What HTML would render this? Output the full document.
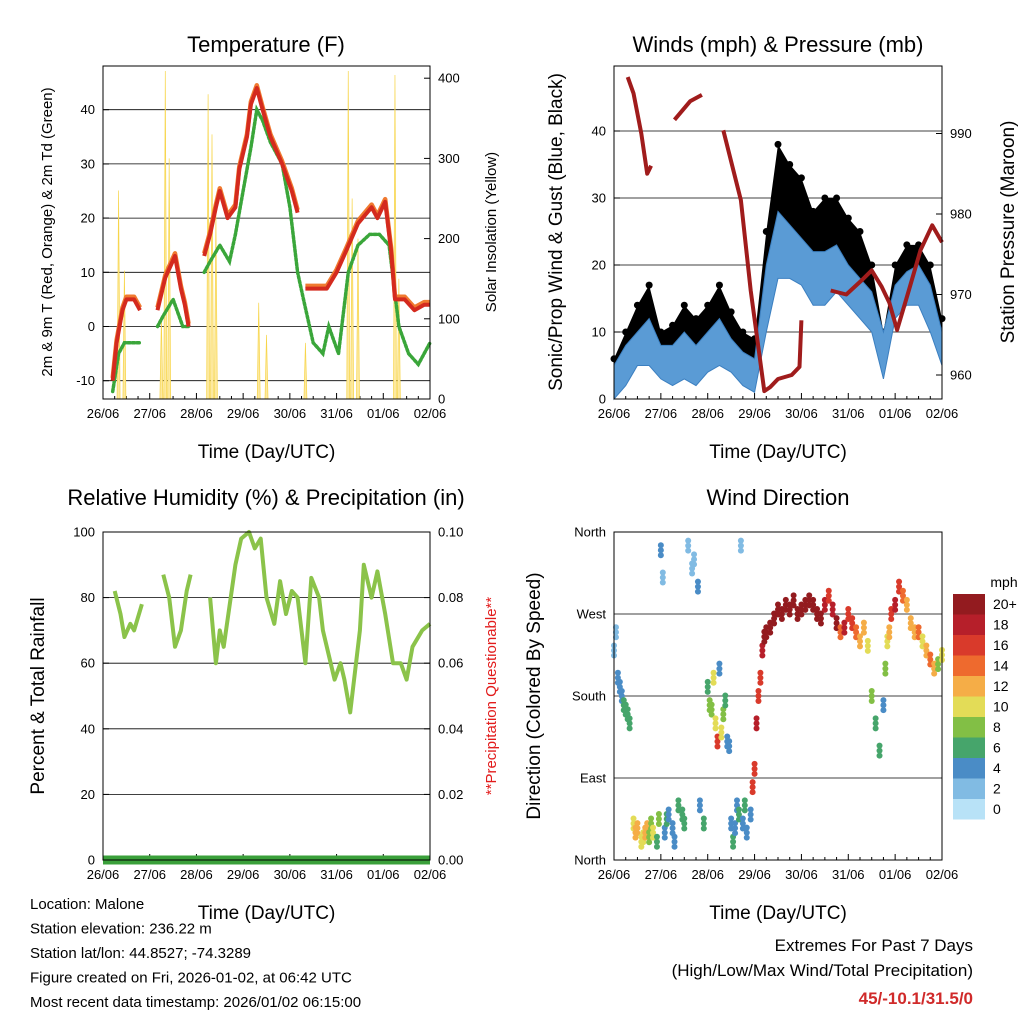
<!DOCTYPE html>
<html><head><meta charset="utf-8"><style>
body{margin:0;background:#fff}
svg{display:block;font-family:"Liberation Sans",sans-serif}
</style></head><body>
<svg id="c" width="1024" height="1024" viewBox="0 0 1024 1024"></svg>
<script>
// ---------- DATA ----------
const dayLabels=["26/06","27/06","28/06","29/06","30/06","31/06","01/06","02/06"];
// Temperature (hours since 26/06 00Z)
const tempT=[5,7,10,12,16,19,20,28,32,37,40,42,44,45,52,55,58,60,64,68,70,74,76,79,82,86,92,97,100,101,104,110,115,120,125,131,138,141,145,148,150,155,160,165,168];
const tempV=[-10,-3,3,5,5,3,null,3,9,13,7,4,0,null,13,17,22,25,20,22,29,35,41,44,40,35,30,25,21,null,7,7,7,10,14,19,22,20,23,14,5,5,3,4,4];
const tdT=[5,8,11,13,19,20,28,31,36,41,44,45,52,55,60,65,68,72,76,79,82,86,92,96,100,103,108,113,116,121,126,131,137,142,147,152,157,162,168];
const tdV=[-12,-5,-3,-3,-3,null,0,2,5,0,0,null,10,12,15,12,17,25,33,40,38,34,30,22,10,5,-3,-5,0,-5,10,15,17,17,15,0,-5,-7,-3];
// Solar spikes: peak time and peak value
const solarT=[8,11,30,32,34,54,56,58,80,84,104,126,128,131,150,152];
const solarV=[260,160,100,409,300,380,330,230,120,80,70,409,250,200,404,150];
// Winds (6-hourly)
const windT=[0,6,12,18,24,30,36,42,48,54,60,66,72,78,84,90,96,102,108,114,120,126,132,138,144,150,156,162,168];
const windLo=[0,2,5,5,3,2,3,2,4,5,4,2,1,10,18,18,17,14,14,16,14,12,10,3,12,14,14,10,5];
const windHi=[5,8,10,12,8,8,10,8,10,12,9,7,6,20,28,26,24,22,22,23,20,18,16,10,17,19,20,17,10];
const gustV=[6,10,14,17,10,11,14,12,14,17,13,10,9,25,38,35,33,28,30,30,27,25,20,10,20,23,23,20,12];
const presT=[7,10,14,17,19,20,31,39,45,46,56,65,70,77,80,84,91,95,96,103,111,119,127,132,137,141,145,151,157,163,168];
const presV=[997,995,990,985,986,null,991.7,994,994.8,null,990.4,981.7,970.5,958,958.5,959.5,960,961,966.8,null,970.5,970,971.8,973,971,969,965.6,970.5,975.5,978.6,976.5];
// RH
const rhT=[6,9,11,14,16,20,21,31,34,37,40,43,45,47,55,58,60,62,68,71,75,78,81,84,88,91,94,97,100,104,107,111,113,119,122,124,127,132,134,138,141,145,149,153,156,159,164,168];
const rhV=[82,75,68,72,70,78,null,87,80,65,70,82,87,null,80,60,70,65,90,98,100,95,98,80,72,85,75,82,80,60,86,80,70,55,60,55,45,70,90,80,88,75,60,60,55,65,70,72];
// Wind direction scatter (deg, 0=N bottom), speed mph
const wdT=[0,1,2,3,4,5,6,7,8,10,11,12,14,15,16,17,18,19,20,22,23,24,25,26,27,28,30,31,33,35,36,38,40,41,43,44,46,48,49,50,51,52,53,54,55,56,57,58,59,60,61,62,63,64,65,66,67,68,70,71,72,73,74,75,76,77,78,80,82,84,86,88,90,92,94,96,98,100,102,104,106,108,110,112,114,116,118,120,122,124,126,128,130,132,134,136,138,139,140,141,142,144,146,148,150,152,154,156,158,160,162,164,166,168];
const wdD=[230,250,200,190,180,170,165,160,150,40,30,35,20,25,30,35,25,40,30,20,45,340,310,30,45,50,35,20,60,50,40,345,320,330,300,60,40,190,170,165,200,150,130,210,140,160,175,130,125,40,20,35,60,50,345,40,60,30,50,80,100,150,180,200,230,245,250,255,265,275,270,280,275,285,270,275,280,285,280,270,265,280,290,275,260,250,255,270,260,250,240,255,235,180,150,120,170,210,240,250,270,280,300,290,280,260,250,250,240,230,220,210,215,225];
const wdS=[2,2,3,3,4,5,6,5,6,10,11,12,10,9,11,12,8,7,10,6,8,3,1,4,5,4,3,4,6,5,6,2,1,2,3,4,6,6,7,8,9,10,16,4,9,8,6,3,4,4,5,3,4,5,2,3,6,4,4,15,16,17,16,15,18,20,20,21,22,21,22,20,21,21,22,21,20,20,22,21,20,17,16,18,19,14,17,16,16,13,12,11,10,7,6,5,4,8,10,12,16,18,16,14,12,11,12,13,10,12,14,11,8,10];
const cbLabels=["0","2","4","6","8","10","12","14","16","18","20+"];
const cbColors=["#b8e2f7","#81bbe3","#4a8cc6","#46a56b","#82bf45","#e3dc57","#f5ad47","#ee6a2e","#d93a2b","#b61f2a","#931b1f"];

// ---------- helpers ----------
const svg=document.getElementById('c');const NS="http://www.w3.org/2000/svg";
function mk(tag,attrs,parent,text){const e=document.createElementNS(NS,tag);for(const k in attrs)e.setAttribute(k,attrs[k]);if(text!==undefined)e.textContent=text;(parent||svg).appendChild(e);return e;}
function txt(x,y,s,size,extra,name){const e=mk('text',Object.assign({x:x,y:y,'font-size':size},extra||{}),svg,s);

return e;}
function pathFrom(ts,vs,sx,sy){let d='',pen=false;for(let i=0;i<ts.length;i++){if(vs[i]===null){pen=false;continue;}d+=(pen?'L':'M')+sx(ts[i]).toFixed(1)+','+sy(vs[i]).toFixed(1);pen=true;}return d;}
function xAxis(x0,x1,yb){const sx=t=>x0+(x1-x0)*t/168;
 for(let i=0;i<8;i++){const x=sx(i*24);mk('line',{x1:x,x2:x,y1:yb,y2:yb-6,stroke:'#000'});
  for(let k=1;k<4;k++){const xm=sx(i*24+k*6);if(i<7)mk('line',{x1:xm,x2:xm,y1:yb,y2:yb-3,stroke:'#000'});}
  const t=txt(x,yb+19,dayLabels[i],13,{'text-anchor':'middle'});
  }
 const l=txt((x0+x1)/2,yb+59,'Time (Day/UTC)',19,{'text-anchor':'middle'});return sx;}
function yTicks(x0,x1,vals,sy,side,fmt,grid){for(const v of vals){const y=sy(v);
 if(grid)mk('line',{x1:x0,x2:x1,y1:y,y2:y,stroke:'#000','stroke-width':0.8});
 const xa=side==='l'?x0:x1;mk('line',{x1:xa,x2:xa+(side==='l'?6:-6),y1:y,y2:y,stroke:'#000'});
 const t=txt(side==='l'?x0-8:x1+8,y+4.5,fmt(v),13,{'text-anchor':side==='l'?'end':'start'});
 }}
function rotLabel(x,y,s,size,color,name){const t=txt(0,0,s,size,{'text-anchor':'middle',transform:`translate(${x},${y}) rotate(-90)`,fill:color||'#000'});return t;}
function box(x0,y0,x1,y1,name){const r=mk('rect',{x:x0,y:y0,width:x1-x0,height:y1-y0,fill:'none',stroke:'#000','stroke-width':1});}

// ---------- Panel 1: Temperature ----------
(function(){const x0=103,x1=430,y0=66,y1=399;
 const sy=v=>326.5-v*5.42, sy2=v=>399-v*0.802;
 let t=txt(266,52,'Temperature (F)',22,{'text-anchor':'middle'});
 const sx=xAxis(x0,x1,y1);
 yTicks(x0,x1,[-10,0,10,20,30,40],sy,'l',v=>v,true);
 yTicks(x0,x1,[0,100,200,300,400],sy2,'r',v=>v,false);
 for(let i=0;i<solarT.length;i++){const xc=sx(solarT[i]);
  const sp=mk('path',{d:`M${xc-1.5},${sy2(0)}L${xc},${sy2(solarV[i])}L${xc+1.5},${sy2(0)}`,fill:'#fde9a0',stroke:'#f7d54a','stroke-width':0.7});
  }
 const td=mk('path',{d:pathFrom(tdT,tdV,sx,sy),fill:'none',stroke:'#3aa63a','stroke-width':3.5,'stroke-dasharray':'2.5 2','stroke-linecap':'round'});
 
 const t9=mk('path',{d:pathFrom(tempT,tempV.map(v=>v===null?null:v+0.5),sx,sy),fill:'none',stroke:'#f07a30','stroke-width':4.5,'stroke-linejoin':'round'});
 
 const t2=mk('path',{d:pathFrom(tempT,tempV,sx,sy),fill:'none',stroke:'#d42a1e','stroke-width':4,'stroke-linejoin':'round'});
 
 box(x0,y0,x1,y1,'temperature-plot-area');
 rotLabel(52,232,'2m & 9m T (Red, Orange) & 2m Td (Green)',15,'#000','y-axis-title');
 rotLabel(496,232,'Solar Insolation (Yellow)',15,'#000','y2-axis-title');
})();

// ---------- Panel 2: Winds ----------
(function(){const x0=614,x1=942,y0=66,y1=399;
 const sy=v=>399-v*6.7, sy2=v=>375-(v-960)*8.05;
 let t=txt(778,52,'Winds (mph) & Pressure (mb)',22,{'text-anchor':'middle'});
 const sx=xAxis(x0,x1,y1);
 yTicks(x0,x1,[0,10,20,30,40],sy,'l',v=>v,true);
 yTicks(x0,x1,[960,970,980,990],sy2,'r',v=>v,false);
 let up='',dn='',gu='';
 for(let i=0;i<windT.length;i++){up+=(i?'L':'M')+sx(windT[i])+','+sy(windHi[i]);gu+=(i?'L':'M')+sx(windT[i])+','+sy(gustV[i]);}
 for(let i=windT.length-1;i>=0;i--){dn+='L'+sx(windT[i])+','+sy(windLo[i]);}
 const gb=mk('path',{d:gu+dn+'Z',fill:'#000'});
 for(let i=0;i<windT.length;i++){const c=mk('circle',{cx:sx(windT[i]),cy:sy(gustV[i]),r:3.5,fill:'#000'});
  }
 const wb=mk('path',{d:up+dn+'Z',fill:'#5a9bd5',stroke:'#3b7fc0','stroke-width':1});
 const p=mk('path',{d:pathFrom(presT,presV,sx,sy2),fill:'none',stroke:'#a01c1c','stroke-width':4,'stroke-linejoin':'round'});
 
 box(x0,y0,x1,y1,'winds-plot-area');
 rotLabel(562,232,'Sonic/Prop Wind & Gust (Blue, Black)',19,'#000','y-axis-title');
 rotLabel(1014,232,'Station Pressure (Maroon)',19,'#000','y2-axis-title');
})();

// ---------- Panel 3: RH ----------
(function(){const x0=103,x1=430,y0=532,y1=860;
 const sy=v=>860-v*3.28, sy2=v=>860-v*3280;
 let t=txt(266,505,'Relative Humidity (%) & Precipitation (in)',22,{'text-anchor':'middle'});
 const sx=xAxis(x0,x1,y1);
 yTicks(x0,x1,[0,20,40,60,80,100],sy,'l',v=>v,true);
 yTicks(x0,x1,[0,0.02,0.04,0.06,0.08,0.1],sy2,'r',v=>v.toFixed(2),false);
 const r=mk('path',{d:pathFrom(rhT,rhV,sx,sy),fill:'none',stroke:'#8bc34a','stroke-width':4,'stroke-linejoin':'round'});
 
 const pr=mk('line',{x1:x0,x2:x1,y1:sy2(0),y2:sy2(0),stroke:'#3aa03a','stroke-width':9});
 box(x0,y0,x1,y1,'rh-plot-area');
 rotLabel(44,696,'Percent & Total Rainfall',19,'#000','y-axis-title');
 rotLabel(496,696,'**Precipitation Questionable**',15,'#e21c1c','y2-axis-title');
})();

// ---------- Panel 4: Wind direction ----------
(function(){const x0=614,x1=942,y0=532,y1=860;
 const sy=d=>860-d/360*328;
 let t=txt(778,505,'Wind Direction',22,{'text-anchor':'middle'});
 const sx=xAxis(x0,x1,y1);
 const dn=['North','East','South','West','North'];
 [0,90,180,270,360].forEach((d,i)=>{const y=sy(d);mk('line',{x1:x0,x2:x1,y1:y,y2:y,stroke:'#000','stroke-width':0.8});
  const l=txt(x0-8,y+4.5,dn[i],13,{'text-anchor':'end'});});
 for(let i=0;i<wdT.length;i++){const ci=Math.min(10,Math.round(wdS[i]/2));
  for(let k=-1;k<=1;k++){const c=mk('circle',{cx:sx(wdT[i]),cy:sy(wdD[i])+k*5,r:3,fill:cbColors[ci]});
  }}
 box(x0,y0,x1,y1,'wind-direction-plot-area');
 rotLabel(540,696,'Direction (Colored By Speed)',19,'#000','y-axis-title');
 let u=txt(1004,587,'mph',14,{'text-anchor':'middle'});
 for(let i=0;i<11;i++){const y=799-i*20.5;
  const r=mk('rect',{x:953,y:y,width:32,height:20.5,fill:cbColors[i]});
  const l=txt(993,y+15,cbLabels[i],14,{});}
})();

// ---------- Footer ----------
["Location: Malone","Station elevation: 236.22 m","Station lat/lon: 44.8527; -74.3289","Figure created on Fri, 2026-01-02, at 06:42 UTC","Most recent data timestamp: 2026/01/02 06:15:00"].forEach((s,i)=>{const t=txt(30,909+i*24.5,s,15);});
let e1=txt(973,951,'Extremes For Past 7 Days',17,{'text-anchor':'end'});
let e2=txt(973,976,'(High/Low/Max Wind/Total Precipitation)',17,{'text-anchor':'end'});
let e3=txt(973,1004,'45/-10.1/31.5/0',17,{'text-anchor':'end','font-weight':'bold',fill:'#d02a2a'});
</script>
</body></html>
